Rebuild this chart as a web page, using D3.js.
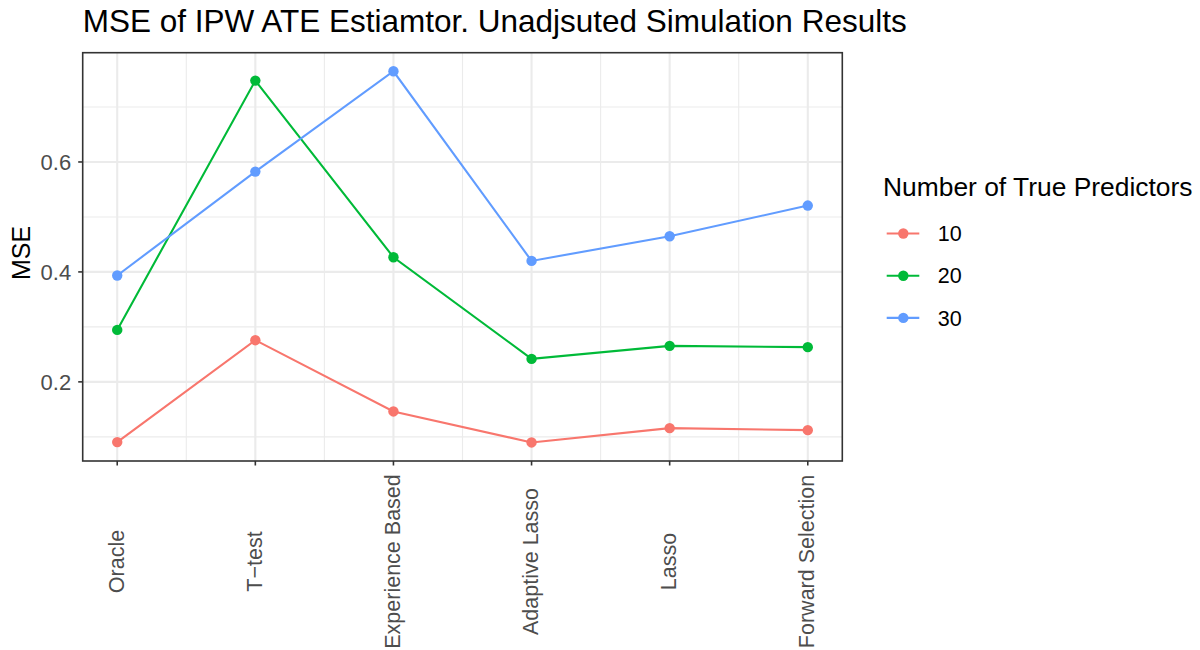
<!DOCTYPE html>
<html>
<head>
<meta charset="utf-8">
<script src="https://cdn.jsdelivr.net/npm/d3@7"></script>
<style>
  body { margin: 0; background: #fff; }
  text { font-family: "Liberation Sans", Arial, sans-serif; }
</style>
</head>
<body>
<script>
const methods = ["Oracle", "T\u2212test", "Experience Based", "Adaptive Lasso", "Lasso", "Forward Selection"]
const groups = ["10", "20", "30"]
const mse10 = [0.0904, 0.2758, 0.1462, 0.0898, 0.1158, 0.1122]
const mse20 = [0.2945, 0.748, 0.4267, 0.2418, 0.2655, 0.2631]
const mse30 = [0.3935, 0.5825, 0.765, 0.42, 0.4649, 0.5207]
const yTicks = [0.2, 0.4, 0.6]
const yMinor = [0.1, 0.3, 0.5, 0.7]
const colors = ["#F8766D", "#00BA38", "#619CFF"]

const W = 1200, H = 650
const svg = d3.select("body").append("svg").attr("width", W).attr("height", H)

const pLeft = 82.7, pRight = 842.3, pTop = 52.7, pBottom = 461

const series = [mse10, mse20, mse30]
const all = series.flat()
const lo = d3.min(all), hi = d3.max(all)
const pad = (hi - lo) * 0.05

const x = d3.scaleLinear().domain([0.75, methods.length + 0.25]).range([pLeft, pRight])
const y = d3.scaleLinear().domain([lo - pad, hi + pad]).range([pBottom, pTop])
const color = d3.scaleOrdinal(groups, colors)

// grid
const grid = svg.append("g")
grid.selectAll(".ym").data(yMinor).enter().append("line")
  .attr("x1", pLeft).attr("x2", pRight)
  .attr("y1", d => y(d)).attr("y2", d => y(d))
  .attr("stroke", "#EBEBEB").attr("stroke-width", 1.1)
grid.selectAll(".xm").data(d3.range(1.5, methods.length, 1)).enter().append("line")
  .attr("y1", pTop).attr("y2", pBottom)
  .attr("x1", d => x(d)).attr("x2", d => x(d))
  .attr("stroke", "#EBEBEB").attr("stroke-width", 1.1)
grid.selectAll(".yM").data(yTicks).enter().append("line")
  .attr("x1", pLeft).attr("x2", pRight)
  .attr("y1", d => y(d)).attr("y2", d => y(d))
  .attr("stroke", "#EBEBEB").attr("stroke-width", 2.1)
grid.selectAll(".xM").data(methods).enter().append("line")
  .attr("y1", pTop).attr("y2", pBottom)
  .attr("x1", (d, i) => x(i + 1)).attr("x2", (d, i) => x(i + 1))
  .attr("stroke", "#EBEBEB").attr("stroke-width", 2.1)

// lines and points
const line = d3.line().x((d, i) => x(i + 1)).y(d => y(d))
series.forEach((s, k) => {
  svg.append("path").datum(s)
    .attr("d", line)
    .attr("fill", "none")
    .attr("stroke", colors[k])
    .attr("stroke-width", 2.1)
  svg.selectAll(".pt" + k).data(s).enter().append("circle")
    .attr("cx", (d, i) => x(i + 1))
    .attr("cy", d => y(d))
    .attr("r", 5.2)
    .attr("fill", colors[k])
})

// panel border
svg.append("rect")
  .attr("x", pLeft).attr("y", pTop)
  .attr("width", pRight - pLeft).attr("height", pBottom - pTop)
  .attr("fill", "none").attr("stroke", "#333333").attr("stroke-width", 1.6)

// y axis
const yAxis = svg.append("g")
yAxis.selectAll("line").data(yTicks).enter().append("line")
  .attr("x1", pLeft - 4.5).attr("x2", pLeft)
  .attr("y1", d => y(d)).attr("y2", d => y(d))
  .attr("stroke", "#333333").attr("stroke-width", 1.6)
yAxis.selectAll("text").data(yTicks).enter().append("text")
  .attr("x", pLeft - 11.5).attr("y", d => y(d))
  .attr("dy", "0.36em")
  .attr("text-anchor", "end")
  .attr("font-size", 22)
  .attr("fill", "#4D4D4D")
  .text(d => d3.format(".1f")(d))

// x axis
const xAxis = svg.append("g")
xAxis.selectAll("line").data(methods).enter().append("line")
  .attr("x1", (d, i) => x(i + 1)).attr("x2", (d, i) => x(i + 1))
  .attr("y1", pBottom).attr("y2", pBottom + 4.5)
  .attr("stroke", "#333333").attr("stroke-width", 1.6)
xAxis.selectAll("text").data(methods).enter().append("text")
  .attr("transform", (d, i) => `translate(${x(i + 1)},561.5) rotate(-90)`)
  .attr("dy", "0.3em")
  .attr("text-anchor", "middle")
  .attr("font-size", 21.5)
  .attr("fill", "#4D4D4D")
  .text(d => d)

// axis title
svg.append("text")
  .attr("transform", `translate(29.5,253) rotate(-90)`)
  .attr("text-anchor", "middle")
  .attr("font-size", 25)
  .attr("fill", "#000")
  .text("MSE")

// title
svg.append("text")
  .attr("x", pLeft).attr("y", 31.7)
  .attr("font-size", 31.5)
  .attr("fill", "#000")
  .text("MSE of IPW ATE Estiamtor. Unadjsuted Simulation Results")

// legend
const lg = svg.append("g")
lg.append("text")
  .attr("x", 883).attr("y", 196)
  .attr("font-size", 26.4)
  .attr("fill", "#000")
  .text("Number of True Predictors")
const items = lg.selectAll(".item").data(groups).enter().append("g")
  .attr("transform", (d, i) => `translate(0,${233.5 + i * 42.2})`)
items.append("line")
  .attr("x1", 886.7).attr("x2", 919.3)
  .attr("stroke", d => color(d)).attr("stroke-width", 2.1)
items.append("circle")
  .attr("cx", 903.3).attr("r", 5.2)
  .attr("fill", d => color(d))
items.append("text")
  .attr("x", 937.7).attr("dy", "0.36em")
  .attr("font-size", 21.5)
  .attr("fill", "#000")
  .text(d => d)
</script>
</body>
</html>
